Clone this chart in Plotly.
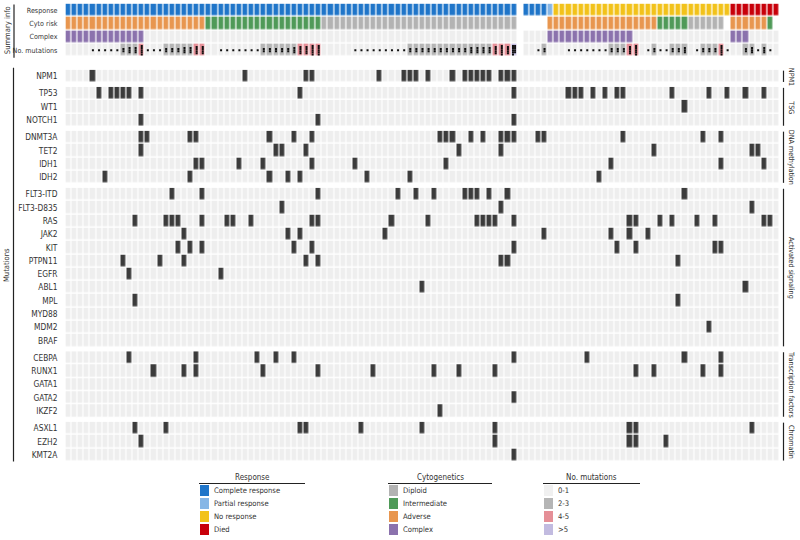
import numpy as np
import plotly.graph_objects as go

W, H = 800, 540
N = 117  # patients (columns)

# ---------------- summary data (run-length per patient, left to right) -------------
response_runs = [("Complete response", 74), (None, 1), ("Complete response", 4),
                 ("Partial response", 1), ("No response", 29), ("Died", 8)]
cyto_runs = [("Adverse", 23), ("Intermediate", 19), ("Diploid", 32), (None, 5),
             ("Adverse", 18), ("Intermediate", 5), ("Diploid", 6), (None, 1),
             ("Adverse", 6), ("Intermediate", 1), (None, 1)]
complex_patients = list(range(0, 13)) + list(range(79, 93)) + list(range(109, 112))
no_summary_patients = [74]

# ---------------- mutation data (patient indices carrying each mutation) -----------
NPM1 = [4, 29, 39, 40, 51, 55, 56, 57, 59, 63, 65, 66, 67, 68, 69, 71, 72, 73]
TP53 = [5, 7, 8, 9, 10, 12, 38, 73, 82, 83, 84, 86, 88, 90, 91, 99, 105, 108, 111, 114]
WT1 = [101]
NOTCH1 = [12, 41, 73]
DNMT3A = [12, 13, 20, 21, 33, 37, 40, 61, 62, 63, 66, 68, 71, 72, 73, 77, 78, 91, 104, 107]
TET2 = [12, 34, 35, 39, 64, 71, 96, 112, 113]
IDH1 = [21, 22, 28, 32, 40, 47, 62, 89, 107, 114]
IDH2 = [6, 20, 33, 36, 38, 49, 56, 87]
FLT3_ITD = [17, 22, 41, 54, 57, 60, 65, 66, 67, 69, 72, 101]
FLT3_D835 = [35, 71, 112]
RAS = [11, 16, 17, 18, 22, 26, 27, 30, 40, 41, 53, 59, 67, 68, 69, 70, 73, 92, 93,
       97, 99, 103, 106, 114, 115]
JAK2 = [19, 36, 38, 52, 78, 89, 92, 95]
KIT = [18, 20, 22, 37, 40, 73, 90, 93, 106, 107]
PTPN11 = [9, 15, 19, 39, 41, 71, 72, 100]
EGFR = [10, 25]
ABL1 = [58, 111]
MPL = [11, 100]
MYD88 = []
MDM2 = [105]
BRAF = []
CEBPA = [10, 21, 31, 34, 37, 73, 85, 101, 107]
RUNX1 = [14, 19, 21, 32, 41, 50, 60, 64, 70, 93, 96, 104, 107]
GATA1 = []
GATA2 = [73]
IKZF2 = [61]
ASXL1 = [11, 16, 38, 39, 48, 58, 70, 92, 93, 112]
EZH2 = [12, 70, 92, 93, 98]
KMT2A = [73]

groups = [
    ("NPM1", [("NPM1", NPM1)]),
    ("TSG", [("TP53", TP53), ("WT1", WT1), ("NOTCH1", NOTCH1)]),
    ("DNA methylation", [("DNMT3A", DNMT3A), ("TET2", TET2), ("IDH1", IDH1), ("IDH2", IDH2)]),
    ("Activated signaling", [("FLT3-ITD", FLT3_ITD), ("FLT3-D835", FLT3_D835), ("RAS", RAS),
                             ("JAK2", JAK2), ("KIT", KIT), ("PTPN11", PTPN11), ("EGFR", EGFR),
                             ("ABL1", ABL1), ("MPL", MPL), ("MYD88", MYD88), ("MDM2", MDM2),
                             ("BRAF", BRAF)]),
    ("Transcription factors", [("CEBPA", CEBPA), ("RUNX1", RUNX1), ("GATA1", GATA1),
                               ("GATA2", GATA2), ("IKZF2", IKZF2)]),
    ("Chromatin", [("ASXL1", ASXL1), ("EZH2", EZH2), ("KMT2A", KMT2A)]),
]

summary_labels = ["Response", "Cyto risk", "Complex", "No. mutations"]

# ---------------- styles ----------------
FONT = "DejaVu Sans Condensed, Liberation Sans Narrow, Roboto, sans-serif"
FS_GENE = 8.3
FS_MIX = 7.6
FS_SUM = 7.1
FS_SIDE = 7.2
TXT = "#333333"
BG = "#eeeeee"
DARK = "#3b3b3b"
resp_colors = {"Complete response": "#1f75c9", "Partial response": "#86b6e6",
               "No response": "#f2c21a", "Died": "#c8000a"}
cyto_colors = {"Diploid": "#b3b3b3", "Intermediate": "#4f9a58",
               "Adverse": "#e8964f", "Complex": "#8b72ad"}
mut_colors = {"0-1": "#f0f0f0", "2-3": "#b5b5b5", "4-5": "#e58f97", ">5": "#c2bbe0"}

code_colors = [BG,
               resp_colors["Complete response"], resp_colors["Partial response"],
               resp_colors["No response"], resp_colors["Died"],
               cyto_colors["Diploid"], cyto_colors["Intermediate"], cyto_colors["Adverse"],
               cyto_colors["Complex"],
               mut_colors["2-3"], mut_colors["4-5"], mut_colors[">5"]]
K = len(code_colors)
cscale = []
for k, c in enumerate(code_colors):
    cscale.append([k / K, c])
    cscale.append([(k + 1) / K, c])

def expand(runs):
    out = []
    for v, n in runs:
        out += [v] * n
    return out

response = expand(response_runs)
cyto = expand(cyto_runs)

all_genes = [g for _, rows in groups for g in rows]
counts = np.zeros(N, dtype=int)
for _, idx in all_genes:
    for i in idx:
        counts[i] += 1

resp_code = {"Complete response": 1, "Partial response": 2, "No response": 3, "Died": 4}
cyto_code = {"Diploid": 5, "Intermediate": 6, "Adverse": 7}
row_resp = [resp_code[r] if r else np.nan for r in response]
row_cyto = [cyto_code[c] if c else np.nan for c in cyto]
row_cplx = [8 if i in complex_patients else 0 for i in range(N)]
def mcode(n):
    if n <= 1:
        return 0
    if n <= 3:
        return 9
    if n <= 5:
        return 10
    return 11
row_mut = [mcode(n) for n in counts]
summary_z = np.array([row_resp, row_cyto, row_cplx, row_mut], dtype=float)
summary_z[:, no_summary_patients] = np.nan

# ---------------- geometry (pixels) ----------------
PITCH = 6.103
GX0 = 65.45
GX1 = GX0 + N * PITCH
P = 13.3      # row pitch
G = 3.9       # group gap
SUM_TOP = 3.6
SUM_P = 13.3
MAIN_TOP = 69.65

def fx(px):
    return px / W
def fy(py):
    return 1 - py / H

fig = go.Figure()
x = list(range(N))

layout_axes = {}
layout_axes["xaxis"] = dict(domain=[fx(GX0), fx(GX1)], range=[-0.5, N - 0.5],
                            visible=False, fixedrange=True)

sum_bot = SUM_TOP + 4 * SUM_P
layout_axes["yaxis"] = dict(domain=[fy(sum_bot), fy(SUM_TOP)], range=[3.5, -0.5],
                            tickvals=[0, 1, 2, 3], ticktext=summary_labels, ticks="",
                            showgrid=False, zeroline=False, showline=False,
                            tickfont=dict(family=FONT, size=FS_SUM, color=TXT),
                            ticklabelstandoff=7, anchor="x", fixedrange=True)
fig.add_trace(go.Heatmap(z=summary_z, x=x, y=[0, 1, 2, 3], colorscale=cscale,
                         zmin=-0.5, zmax=K - 0.5, xgap=1.2, ygap=1.4, showscale=False,
                         hoverinfo="skip", xaxis="x", yaxis="y"))

# dots for number of mutations
dx, dy = [], []
for i, n in enumerate(counts):
    if n == 0 or i in no_summary_patients:
        continue
    if n <= 5:
        offs = (np.arange(n) - (n - 1) / 2) * 0.16
        for o in offs:
            dx.append(i); dy.append(3 + o)
    else:
        per = int(np.ceil(n / 2))
        for j in range(n):
            col = j // per
            r = j % per
            dx.append(i + (-0.17 if col == 0 else 0.17))
            dy.append(3 + (r - (per - 1) / 2) * 0.16)
fig.add_trace(go.Scatter(x=dx, y=dy, mode="markers", xaxis="x", yaxis="y",
                         marker=dict(symbol="square", size=2, color="#111111"),
                         hoverinfo="skip", showlegend=False))

shapes = []
annotations = []
top = MAIN_TOP
for gi, (gname, rows) in enumerate(groups):
    n = len(rows)
    bot = top + n * P
    ax = "y%d" % (gi + 2)
    key = "yaxis%d" % (gi + 2)
    z = np.zeros((n, N))
    for r, (_, idx) in enumerate(rows):
        for i in idx:
            z[r, i] = 1
    layout_axes[key] = dict(domain=[fy(bot), fy(top)], range=[n - 0.5, -0.5],
                            tickvals=list(range(n)), ticktext=[g for g, _ in rows],
                            ticks="", showgrid=False, zeroline=False, showline=False,
                            tickfont=dict(family=FONT, size=FS_GENE, color=TXT),
                            ticklabelstandoff=7, anchor="x", fixedrange=True)
    fig.add_trace(go.Heatmap(z=z, x=x, y=list(range(n)),
                             colorscale=[[0, BG], [0.5, BG], [0.5, DARK], [1, DARK]],
                             zmin=0, zmax=1, xgap=1.2, ygap=1.4, showscale=False,
                             hoverinfo="skip", xaxis="x", yaxis=ax))
    shapes.append(dict(type="line", xref="paper", yref="paper",
                       x0=fx(783.5), x1=fx(783.5), y0=fy(top + 1), y1=fy(bot - 1),
                       line=dict(color="#222222", width=1.2)))
    annotations.append(dict(text=gname, xref="paper", yref="paper",
                            x=fx(791.5), y=fy((top + bot) / 2), textangle=90,
                            showarrow=False, xanchor="center", yanchor="middle",
                            font=dict(family=FONT, size=FS_SIDE, color=TXT)))
    top = bot + G

main_bot = top - G

shapes.append(dict(type="line", xref="paper", yref="paper", x0=fx(14), x1=fx(14),
                   y0=fy(SUM_TOP + 1), y1=fy(sum_bot + 1), line=dict(color="#222222", width=1.2)))
shapes.append(dict(type="line", xref="paper", yref="paper", x0=fx(13.5), x1=fx(13.5),
                   y0=fy(MAIN_TOP - 2), y1=fy(main_bot), line=dict(color="#222222", width=1.2)))
annotations.append(dict(text="Summary info", xref="paper", yref="paper", x=fx(7),
                        y=fy((SUM_TOP + sum_bot) / 2), textangle=-90, showarrow=False,
                        xanchor="center", yanchor="middle",
                        font=dict(family=FONT, size=FS_MIX, color=TXT)))
annotations.append(dict(text="Mutations", xref="paper", yref="paper", x=fx(6.5),
                        y=fy((MAIN_TOP + main_bot) / 2), textangle=-90, showarrow=False,
                        xanchor="center", yanchor="middle",
                        font=dict(family=FONT, size=FS_MIX, color=TXT)))

# ---------------- bottom legends ----------------
legends = [
    ("Response", list(resp_colors.keys()), list(resp_colors.values()), 199, 305),
    ("Cytogenetics", list(cyto_colors.keys()), list(cyto_colors.values()), 388, 492),
    ("No. mutations", list(mut_colors.keys()), list(mut_colors.values()), 543, 640),
]
for title, labels, cols, lx0, lx1 in legends:
    annotations.append(dict(text=title, xref="paper", yref="paper",
                            x=fx((lx0 + lx1) / 2), y=fy(477), showarrow=False,
                            xanchor="center", yanchor="middle",
                            font=dict(family=FONT, size=8, color=TXT)))
    shapes.append(dict(type="line", xref="paper", yref="paper", x0=fx(lx0), x1=fx(lx1),
                       y0=fy(483.5), y1=fy(483.5), line=dict(color="#222222", width=1)))
    for k, (lab, c) in enumerate(zip(labels, cols)):
        yc = 490.5 + 13 * k
        shapes.append(dict(type="rect", xref="paper", yref="paper",
                           x0=fx(lx0 + 1), x1=fx(lx0 + 10), y0=fy(yc - 5.5), y1=fy(yc + 5.5),
                           fillcolor=c, line=dict(width=0)))
        annotations.append(dict(text=lab, xref="paper", yref="paper", x=fx(lx0 + 13),
                                y=fy(yc), showarrow=False, xanchor="left",
                                yanchor="middle",
                                font=dict(family=FONT, size=FS_MIX, color=TXT)))

fig.update_layout(width=W, height=H, margin=dict(l=0, r=0, t=0, b=0),
                  paper_bgcolor="white", plot_bgcolor="white", showlegend=False,
                  shapes=shapes, annotations=annotations, **layout_axes)

fig.write_html("out.html", config={"displayModeBar": False, "staticPlot": True},
               post_script="document.body.style.margin='0px';document.body.style.overflow='hidden';")
